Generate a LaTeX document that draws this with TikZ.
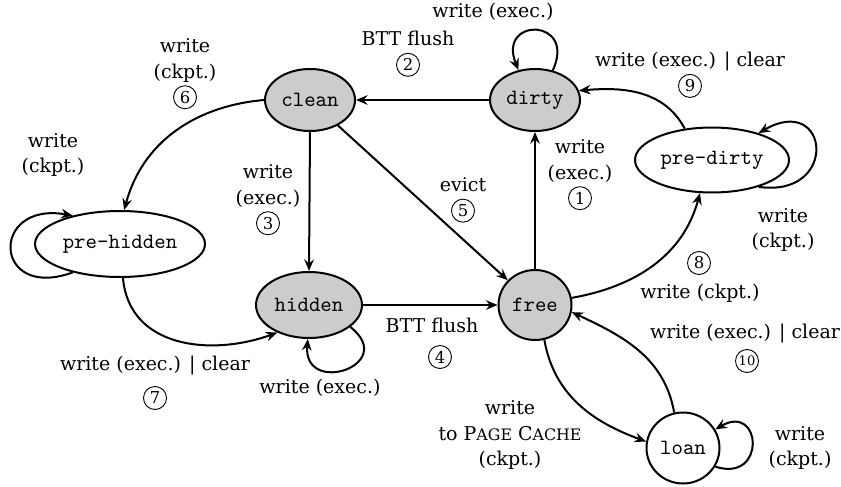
\documentclass[tikz,border=0pt]{standalone}
\usepackage{fontspec}
\setmainfont{DejaVu Serif}
\usetikzlibrary{shapes.geometric,arrows.meta}

% circled step number
\newcommand\cnum[1]{\tikz[baseline=(cn.base)]\node[circle,draw,line width=0.45pt,inner sep=0pt,minimum size=11.5pt] (cn) {\fontsize{8.2}{8}\selectfont #1};}
% small capitals drawn by hand
\newcommand\fakesc[2]{#1{\fontsize{7.9}{9}\selectfont #2}}

\begin{document}
\begin{tikzpicture}[x=0.5pt,y=-0.5pt,
  font=\fontsize{9.5}{12.6}\selectfont,
  st/.style={ellipse,draw,line width=1pt,inner sep=0pt,font=\ttfamily\fontsize{10.9}{12}\selectfont},
  busy/.style={st,fill=gray!40},
  arr/.style={-{Stealth[length=5.8pt,width=4.8pt,inset=2pt]},line width=1pt},
  lbl/.style={align=center,inner sep=0pt}]
\useasboundingbox (0,0) rectangle (841,487);

% states
\node[busy,minimum width=45pt,minimum height=31pt] (clean) at (310,100) {clean};
\node[busy,minimum width=45pt,minimum height=31pt] (dirty) at (535,100) {dirty};
\node[st,minimum width=77pt,minimum height=32.5pt] (predirty) at (712,160) {pre-dirty};
\node[st,minimum width=85pt,minimum height=33pt] (prehidden) at (120,244) {pre-hidden};
\node[busy,minimum width=53pt,minimum height=33pt] (hidden) at (309,305) {hidden};
\node[busy,minimum width=36.5pt,minimum height=35pt] (free) at (535,305) {free};
\node[st,minimum width=36.5pt,minimum height=35.5pt] (loan) at (683,448) {loan};

% transitions (the y axis points down, so polar offsets use mirrored angles)
\draw[arr] (dirty.west) -- (clean.east);
\draw[arr] (dirty.59) .. controls +(-65:58) and +(-112:58) .. (dirty.119);
\draw[arr] (free.north) -- (dirty.south);
\draw[arr] (clean.south) -- (hidden.north);
\draw[arr] (clean) -- (free);
\draw[arr] (hidden.east) -- (free.west);
\draw[arr] (hidden.-28) .. controls +(38:62) and +(95:58) .. (hidden.268);
\draw[arr] (free.11) to[out=10,in=255] (predirty.250);
\draw[arr] (predirty.131) to[out=118,in=5] (dirty.12);
\draw[arr] (predirty.-30) .. controls +(8:82) and +(-30:82) .. (predirty.30);
\draw[arr] (clean.west) to[out=185,in=75] (prehidden.83);
\draw[arr] (prehidden.211) .. controls +(160:85) and +(190:85) .. (prehidden.149);
\draw[arr] (prehidden.275) to[out=-85,in=200,looseness=1.1] (hidden.221);
\draw[arr] (free.-75) to[out=-80,in=160] (loan.170);
\draw[arr] (loan.104) to[out=100,in=-25] (free.-11);
\draw[arr] (loan.-30) .. controls +(18:54) and +(-30:54) .. (loan.30);

% labels
\node[lbl] (l2) at (408,54) {BTT flush\\\cnum{2}};
\node[lbl] (ldl) at (493,12) {write (exec.)};
\node[lbl] (l1) at (580,175) {write\\(exec.)\\\cnum{1}};
\node[lbl] (l3) at (268,200) {write\\(exec.)\\\cnum{3}};
\node[lbl] (l5) at (463,200) {evict\\\cnum{5}};
\node[lbl] (l4a) at (432,325) {BTT flush};
\node[lbl] (l4b) at (440,357) {\cnum{4}};
\node[lbl] (lhl) at (320,388) {write (exec.)};
\node[lbl] (l8a) at (699,263) {\cnum{8}};
\node[lbl] (l8b) at (700,293) {write (ckpt.)};
\node[lbl] (l9) at (690,75) {write (exec.) | clear\\\cnum{9}};
\node[lbl] (lpd) at (783,230) {write\\(ckpt.)};
\node[lbl] (l6) at (185,74) {write\\(ckpt.)\\\cnum{6}};
\node[lbl] (lph) at (53,155) {write\\(ckpt.)};
\node[lbl] (l7a) at (155,365) {write (exec.) | clear};
\node[lbl] (l7b) at (155,398) {\cnum{7}};
\node[lbl] (lpc) at (510,435) {write\\to \fakesc{P}{AGE} \fakesc{C}{ACHE}\\(ckpt.)};
\node[lbl] (l10a) at (745,333) {write (exec.) | clear};
\node[lbl] (l10b) at (747,361) {\cnum{{\fontsize{6.5}{7}\selectfont 10}}};
\node[lbl] (lln) at (800,448) {write\\(ckpt.)};
\end{tikzpicture}
\end{document}
